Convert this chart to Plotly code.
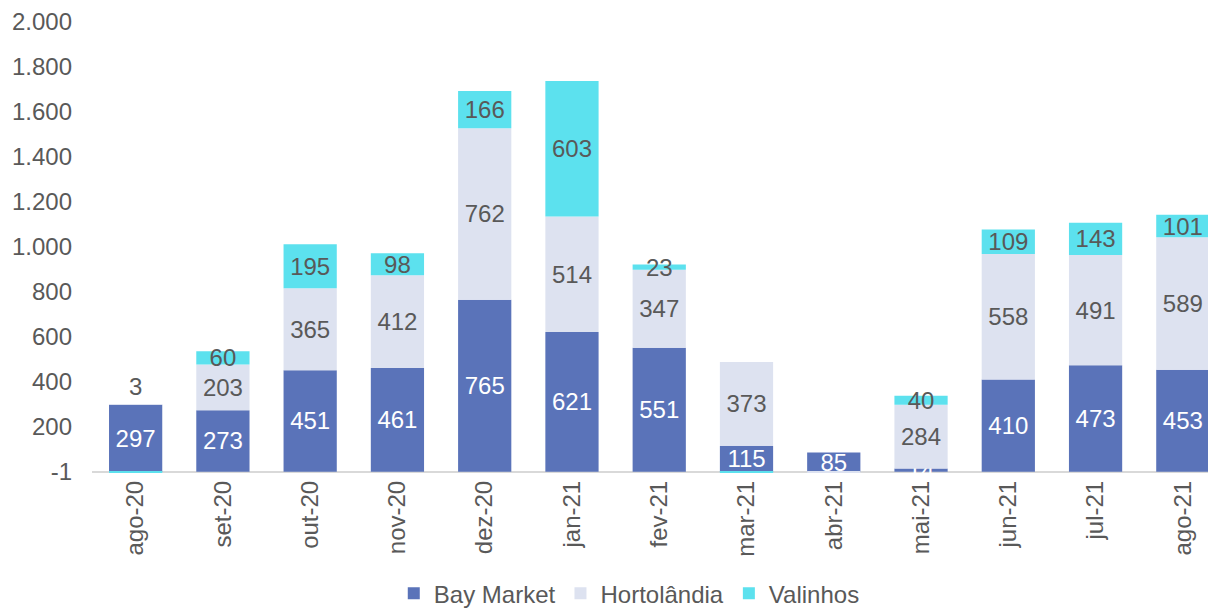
import plotly.graph_objects as go

categories = ["ago-20", "set-20", "out-20", "nov-20", "dez-20", "jan-21", "fev-21",
              "mar-21", "abr-21", "mai-21", "jun-21", "jul-21", "ago-21"]
bay_market = [297, 273, 451, 461, 765, 621, 551, 115, 85, 14, 410, 473, 453]
hortolandia = [3, 203, 365, 412, 762, 514, 347, 373, -6, 284, 558, 491, 589]
valinhos = [-3, 60, 195, 98, 166, 603, 23, -3, 0, 40, 109, 143, 101]

y_tickvals = [0, 200, 400, 600, 800, 1000, 1200, 1400, 1600, 1800, 2000]
y_ticktext = ["-1", "200", "400", "600", "800", "1.000", "1.200", "1.400", "1.600", "1.800", "2.000"]

FONT = "Liberation Sans, Arial, sans-serif"
GREY = "#595959"
FS = 24


def labels(vals, hide_small=True):
    out = []
    for v in vals:
        if v <= 0 or (hide_small and v < 5):
            out.append("")
        else:
            out.append(str(v))
    return out


fig = go.Figure()
series = [
    ("Bay Market", bay_market, "#5A73B9", "white"),
    ("Hortolândia", hortolandia, "#DDE2F0", GREY),
    ("Valinhos", valinhos, "#5CE1EE", GREY),
]
for name, vals, color, tcolor in series:
    fig.add_trace(go.Bar(
        name=name, x=categories, y=vals, marker_color=color,
        marker_line_width=0,
        text=labels(vals), textposition="inside", insidetextanchor="middle",
        constraintext="none", textangle=0,
        textfont=dict(family=FONT, size=FS, color=tcolor),
        hoverinfo="skip",
    ))

# label "3" for the tiny Hortolândia segment of ago-20, shown above the bar
fig.add_annotation(x=categories[0], y=bay_market[0] + hortolandia[0], text=str(hortolandia[0]),
                   showarrow=False, yanchor="bottom", yshift=2,
                   font=dict(family=FONT, size=FS, color=GREY))

fig.update_layout(
    width=1208, height=602,
    barmode="relative", bargap=0.39,
    plot_bgcolor="white", paper_bgcolor="white",
    margin=dict(l=84, r=0, t=14, b=135, autoexpand=False),
    font=dict(family=FONT, size=FS, color=GREY),
    showlegend=True,
    legend=dict(orientation="h", x=0.478, xanchor="center", y=-0.212, yanchor="top",
                font=dict(family=FONT, size=FS, color=GREY), itemsizing="constant",
                traceorder="normal"),
    separators=",.",
)
fig.update_xaxes(range=[-0.5, 12.38], tickangle=-90, showline=False, showgrid=False,
                 ticks="", automargin=False,
                 tickfont=dict(family=FONT, size=FS, color=GREY))
fig.update_yaxes(range=[-15, 2000], tickvals=y_tickvals, ticktext=y_ticktext,
                 showgrid=False, showline=False, ticks="", automargin=False,
                 zeroline=True, zerolinecolor="#D9D9D9", zerolinewidth=2,
                 ticklabelstandoff=19,
                 tickfont=dict(family=FONT, size=FS, color=GREY))

fig.write_html("out.html")
